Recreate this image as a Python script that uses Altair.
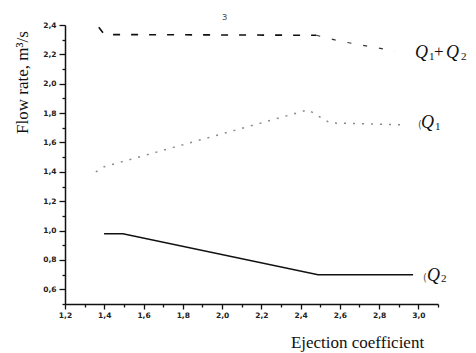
import altair as alt
import pandas as pd

# axis ticks
x_major = [1.2, 1.4, 1.6, 1.8, 2.0, 2.2, 2.4, 2.6, 2.8, 3.0]
y_major = [0.6, 0.8, 1.0, 1.2, 1.4, 1.6, 1.8, 2.0, 2.2, 2.4]
x_all = [round(1.2 + 0.1 * i, 1) for i in range(20)]
y_all = [round(0.5 + 0.1 * i, 1) for i in range(20)]

# Q1 + Q2 (dashed)
sum_a_x = [1.372, 1.40, 2.48]
sum_a_y = [2.385, 2.335, 2.33]
sum_b_x = [2.48, 2.60, 2.88]
sum_b_y = [2.33, 2.29, 2.223]
# Q1 (dotted)
q1_x = [1.357, 1.40, 2.438, 2.55, 2.92]
q1_y = [1.40, 1.435, 1.822, 1.733, 1.72]
# Q2 (solid)
q2_x = [1.399, 1.495, 2.489, 2.973]
q2_y = [0.978, 0.978, 0.70, 0.70]

# annotation pieces
ital_text = ["Q", "Q", "Q", "Q"]
ital_x = [2.983, 3.141, 3.0135, 3.044]
ital_y = [2.1755, 2.1755, 1.699, 0.6585]
up_text = ["1", "+", "2", "1", "2"]
up_x = [3.054, 3.080, 3.217, 3.085, 3.115]
up_y = [2.162, 2.182, 2.162, 1.686, 0.652]
up_size = [11, 17, 11, 11, 11]
art_text = ["(", "(", "з"]
art_x = [2.998, 3.024, 2.0]
art_y = [1.70, 0.66, 2.434]

xs = alt.Scale(domain=[1.2, 3.1], nice=False, zero=False)
ys = alt.Scale(domain=[0.5, 2.4], nice=False, zero=False)

even = "round(datum.value*10) % 2 == 0"
lab = "round(datum.value*10) % 2 == 0 ? replace(format(datum.value, '.1f'), '.', ',') : ''"

xaxis = alt.Axis(values=x_all, labelExpr=lab, grid=False, labelOverlap=False,
                 labelFlush=False, tickSize={"condition": {"test": even, "value": 5}, "value": 3},
                 title="Ejection coefficient", titleFont="Liberation Serif", titleFontSize=17,
                 titleFontWeight="normal", titleX=292, titleY=43, titleAlign="center",
                 titleBaseline="alphabetic", titleColor="#111", labelPadding=2)
yaxis = alt.Axis(values=y_all, labelExpr=lab, grid=False, labelOverlap=False,
                 labelFlush=False, tickSize={"condition": {"test": even, "value": 6}, "value": 3},
                 title="Flow rate, m³/s", titleFont="Liberation Serif", titleFontSize=17,
                 titleFontWeight="normal", titleX=-38, titleY=57, titleAngle=-90,
                 titleAlign="center", titleBaseline="alphabetic", titleColor="#111", labelPadding=3)

X = alt.X("x:Q", scale=xs, axis=xaxis)
Y = alt.Y("y:Q", scale=ys, axis=yaxis)


def line_df(xv, yv):
    return pd.DataFrame({"x": xv, "y": yv})


sum_a = alt.Chart(line_df(sum_a_x, sum_a_y)).mark_line(
    color="#111", strokeWidth=1.6, strokeDash=[7, 11]).encode(x=X, y=Y)
sum_b = alt.Chart(line_df(sum_b_x, sum_b_y)).mark_line(
    color="#333", strokeWidth=1.2, strokeDash=[4, 12]).encode(x=X, y=Y)
q1 = alt.Chart(line_df(q1_x, q1_y)).mark_line(
    color="#8a8a8a", strokeWidth=1.5, strokeDash=[2, 7]).encode(x=X, y=Y)
q2 = alt.Chart(line_df(q2_x, q2_y)).mark_line(
    color="#111", strokeWidth=1.5).encode(x=X, y=Y)

ital = alt.Chart(pd.DataFrame({"x": ital_x, "y": ital_y, "t": ital_text})).mark_text(
    font="Liberation Serif", fontStyle="italic", fontSize=18, align="left",
    baseline="alphabetic", color="#111").encode(x=X, y=Y, text="t:N")
up = alt.Chart(pd.DataFrame({"x": up_x, "y": up_y, "t": up_text, "s": up_size})).mark_text(
    font="Liberation Serif", align="left", baseline="alphabetic", color="#111").encode(
    x=X, y=Y, text="t:N", size=alt.Size("s:Q", scale=None, legend=None))
art = alt.Chart(pd.DataFrame({"x": art_x, "y": art_y, "t": art_text})).mark_text(
    font="DejaVu Sans", fontSize=10, align="left", baseline="alphabetic",
    color="#555").encode(x=X, y=Y, text="t:N")

chart = alt.layer(sum_a, sum_b, q1, q2, ital, up, art).properties(
    width=373, height=279, autosize="none",
    padding={"left": 57, "top": 17, "right": 30, "bottom": 49},
    background="white",
).configure_view(stroke=None).configure_axis(
    domainColor="#111", domainWidth=1.5, tickColor="#111", tickWidth=1.3,
    labelFont="DejaVu Sans", labelFontSize=7.5, labelFontWeight="bold", labelColor="#222",
)

chart.save("out.html", embed_options={"renderer": "svg", "actions": False})
